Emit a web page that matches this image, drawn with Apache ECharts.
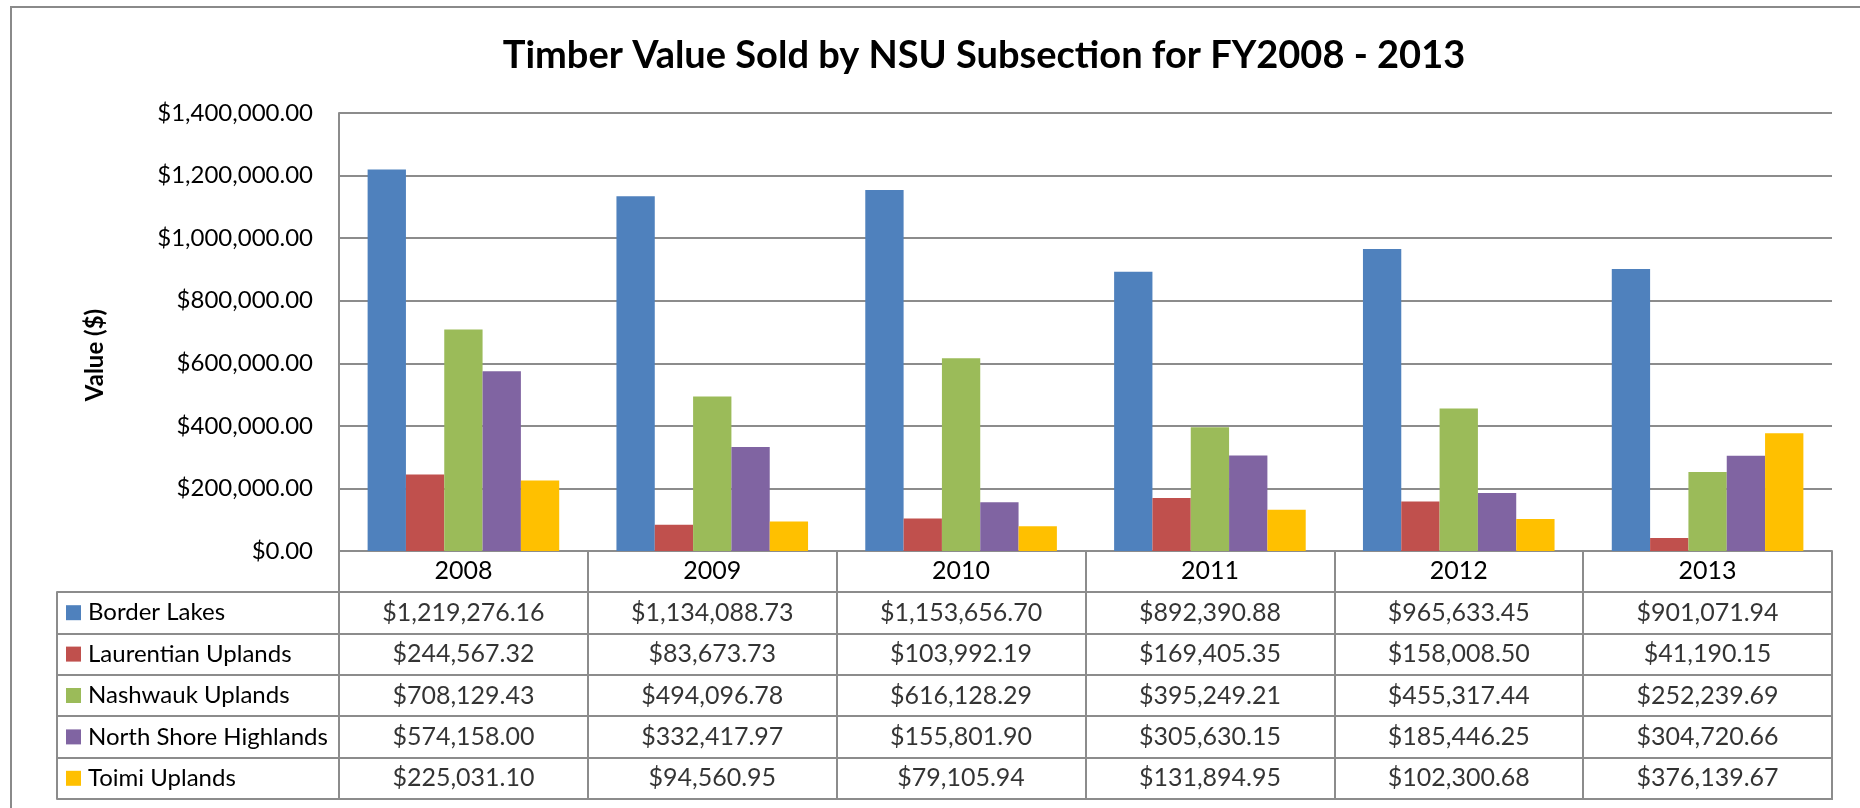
<!DOCTYPE html>
<html>
<head>
<meta charset="utf-8">
<script src="https://cdn.jsdelivr.net/npm/echarts@6/dist/echarts.min.js"></script>
<style>
html, body { margin: 0; padding: 0; background: #fff; }
#chart { width: 1860px; height: 808px; }
</style>
</head>
<body>
<div id="chart"></div>
<script>
// data
var years = ["2008", "2009", "2010", "2011", "2012", "2013"];
var seriesNames = ["Border Lakes", "Laurentian Uplands", "Nashwauk Uplands", "North Shore Highlands", "Toimi Uplands"];
var borderLakes = [1219276.16, 1134088.73, 1153656.70, 892390.88, 965633.45, 901071.94];
var laurentianUplands = [244567.32, 83673.73, 103992.19, 169405.35, 158008.50, 41190.15];
var nashwaukUplands = [708129.43, 494096.78, 616128.29, 395249.21, 455317.44, 252239.69];
var northShoreHighlands = [574158.00, 332417.97, 155801.90, 305630.15, 185446.25, 304720.66];
var toimiUplands = [225031.10, 94560.95, 79105.94, 131894.95, 102300.68, 376139.67];
var yTicks = [0, 200000, 400000, 600000, 800000, 1000000, 1200000, 1400000];

var colors = ["#4F81BD", "#C0504D", "#9BBB59", "#8064A2", "#FFC000"];
var gray = "#8c8c8c";
var font = "Lato";

function money(v) {
  return "$" + v.toLocaleString("en-US", { minimumFractionDigits: 2, maximumFractionDigits: 2 });
}

var allValues = [borderLakes, laurentianUplands, nashwaukUplands, northShoreHighlands, toimiUplands];

// cells of the data table: [year index, row index, value]
var cells = [];
allValues.forEach(function (row, r) {
  row.forEach(function (v, c) {
    cells.push([c, r, v]);
  });
});

var rich = { t: { fontFamily: font, fontSize: 24, color: "#000", padding: [0, 0, 0, 7] } };
colors.forEach(function (c, i) {
  rich["s" + i] = { width: 15, height: 15, backgroundColor: c };
});

var myChart = echarts.init(document.getElementById("chart"));

var option = {
  backgroundColor: "#fff",
  animation: false,
  title: {
    text: "Timber Value Sold by NSU Subsection for FY2008 - 2013",
    left: 979,
    textAlign: "center",
    top: 32,
    textStyle: { fontFamily: font, fontSize: 38, fontWeight: "bold", color: "#000" }
  },
  graphic: [
    {
      type: "rect",
      shape: { x: 11, y: 7, width: 2000, height: 1000 },
      style: { fill: "none", stroke: "#8a8a8a", lineWidth: 2 },
      silent: true
    }
  ],
  grid: [
    { left: 339, right: 28, top: 113, height: 438 },
    { left: 339, right: 28, top: 592, height: 207, show: true, borderColor: gray, borderWidth: 2 }
  ],
  xAxis: [
    {
      type: "category",
      gridIndex: 0,
      data: years,
      axisLine: { lineStyle: { color: gray, width: 2 } },
      axisTick: { show: true, length: 41, lineStyle: { color: gray, width: 2 } },
      axisLabel: { margin: 20, verticalAlign: "middle", fontFamily: font, fontSize: 25, color: "#000" }
    },
    {
      type: "category",
      gridIndex: 1,
      data: years,
      axisLine: { show: false },
      axisTick: { show: false },
      axisLabel: { show: false },
      splitLine: { show: true, lineStyle: { color: gray, width: 2 } }
    }
  ],
  yAxis: [
    {
      type: "value",
      gridIndex: 0,
      min: yTicks[0],
      max: yTicks[yTicks.length - 1],
      interval: yTicks[1] - yTicks[0],
      name: "Value ($)",
      nameLocation: "middle",
      nameGap: 232,
      nameRotate: 90,
      nameTextStyle: { fontFamily: font, fontSize: 24, fontWeight: "bold", color: "#000", padding: [0, 46, 0, 0] },
      axisLine: { show: true, lineStyle: { color: gray, width: 2 } },
      axisTick: { show: false },
      axisLabel: {
        margin: 26,
        fontFamily: font,
        fontSize: 24,
        color: "#000",
        formatter: function (v) { return money(v); }
      },
      splitLine: { lineStyle: { color: gray, width: 2 } }
    },
    {
      type: "category",
      gridIndex: 1,
      inverse: true,
      data: seriesNames,
      axisLine: { show: true, lineStyle: { color: gray, width: 2 } },
      axisTick: { show: true, length: 282, lineStyle: { color: gray, width: 2 } },
      axisLabel: {
        margin: 273,
        align: "left",
        formatter: function (name, idx) { return "{s" + idx + "| }{t|" + name + "}"; },
        rich: rich
      },
      splitLine: { show: true, lineStyle: { color: gray, width: 2 } }
    },
    {
      // left edge of the table
      type: "category",
      gridIndex: 1,
      inverse: true,
      data: seriesNames,
      position: "left",
      offset: 282,
      axisLine: { show: true, lineStyle: { color: gray, width: 2 } },
      axisTick: { show: false },
      axisLabel: { show: false },
      splitLine: { show: false }
    }
  ],
  series: allValues.map(function (vals, i) {
    return {
      name: seriesNames[i],
      type: "bar",
      xAxisIndex: 0,
      yAxisIndex: 0,
      data: vals,
      barGap: "0%",
      barCategoryGap: "23%",
      itemStyle: { color: colors[i] }
    };
  }).concat([
    {
      type: "scatter",
      xAxisIndex: 1,
      yAxisIndex: 1,
      data: cells,
      symbolSize: 1,
      itemStyle: { color: "rgba(0,0,0,0)" },
      label: {
        show: true,
        position: "inside",
        fontFamily: font,
        fontSize: 25,
        color: "#000",
        formatter: function (p) { return money(p.value[2]); }
      }
    }
  ])
};

myChart.setOption(option);

window.addEventListener("resize", function () {
  myChart.resize();
});
</script>
</body>
</html>
